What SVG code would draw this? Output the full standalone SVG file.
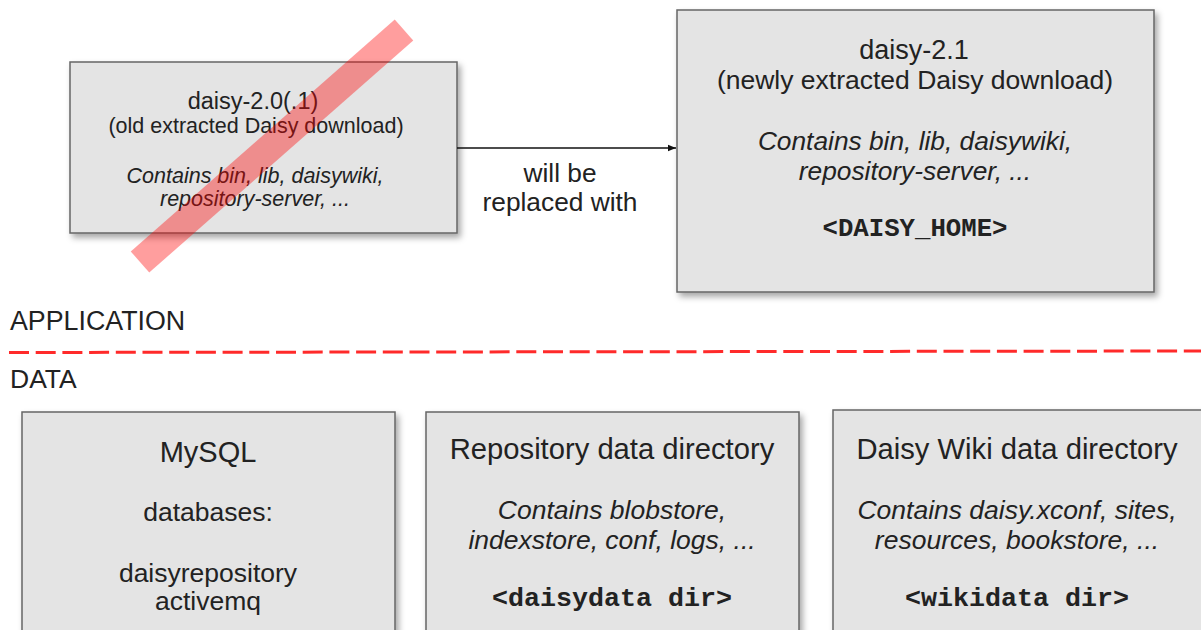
<svg xmlns="http://www.w3.org/2000/svg" width="1201" height="630" viewBox="0 0 1201 630">
<defs>
<filter id="sh" x="-10%" y="-10%" width="125%" height="130%">
<feDropShadow dx="3" dy="4" stdDeviation="3" flood-color="#000" flood-opacity="0.35"/>
</filter>
<marker id="arr" viewBox="0 0 10 10" refX="10" refY="5" markerWidth="8" markerHeight="8" markerUnits="userSpaceOnUse" orient="auto">
<path d="M0,1 L10,5 L0,9 Z" fill="#111"/>
</marker>
</defs>
<style>
.box{fill:#e4e4e4;stroke:#666;stroke-width:1.5;filter:url(#sh)}
text{font-family:"Liberation Sans",Arial,sans-serif;fill:#222;text-anchor:middle}
.it{font-style:italic}
.mono{font-family:"Liberation Mono","Courier New",monospace;font-weight:bold}
.lbl{text-anchor:start}
</style>
<rect width="1201" height="630" fill="#fff"/>

<g id="old">
<rect class="box" x="70" y="62" width="387" height="171"/>
<text x="253" y="109" font-size="23.5">daisy-2.0(.1)</text>
<text x="256" y="133" font-size="21.5">(old extracted Daisy download)</text>
<text class="it" x="255" y="183" font-size="21.5">Contains bin, lib, daisywiki,</text>
<text class="it" x="255" y="206" font-size="21.5">repository-server, ...</text>
</g>

<g id="new">
<rect class="box" x="677" y="10" width="477" height="282"/>
<text x="914" y="59" font-size="27">daisy-2.1</text>
<text x="915" y="89" font-size="26.5">(newly extracted Daisy download)</text>
<text class="it" x="915" y="150" font-size="26.3">Contains bin, lib, daisywiki,</text>
<text class="it" x="915" y="180" font-size="26.3">repository-server, ...</text>
<text class="mono" x="915" y="236" font-size="25.7">&lt;DAISY_HOME&gt;</text>
</g>

<g id="strike">
<line x1="140" y1="262" x2="404" y2="30" stroke="#ff0000" stroke-opacity="0.38" stroke-width="28"/>
</g>

<g id="connectors">
<line x1="457" y1="148" x2="676" y2="148" stroke="#111" stroke-width="1.5" marker-end="url(#arr)"/>
<text x="560" y="182" font-size="26.3">will be</text>
<text x="560" y="211" font-size="26.3">replaced with</text>
</g>

<g id="divider">
<text class="lbl" x="10" y="330" font-size="26.8">APPLICATION</text>
<line x1="9" y1="352.5" x2="1201" y2="351" stroke="#ff2a2a" stroke-width="3" stroke-dasharray="20 6.7"/>
<text class="lbl" x="10" y="388" font-size="26.5">DATA</text>
</g>

<g id="mysql">
<rect class="box" x="22" y="412" width="373" height="240"/>
<text x="208" y="462" font-size="29">MySQL</text>
<text x="208" y="521" font-size="26.5">databases:</text>
<text x="208" y="582" font-size="26.5">daisyrepository</text>
<text x="208" y="610" font-size="26.5">activemq</text>
</g>

<g id="repodata">
<rect class="box" x="426" y="412" width="373" height="240"/>
<text x="612" y="459" font-size="29.2">Repository data directory</text>
<text class="it" x="612" y="519" font-size="26.5">Contains blobstore,</text>
<text class="it" x="612" y="549" font-size="26.5">indexstore, conf, logs, ...</text>
<text class="mono" x="612" y="606" font-size="26.7">&lt;daisydata dir&gt;</text>
</g>

<g id="wikidata">
<rect class="box" x="833" y="410" width="373" height="240"/>
<text x="1017" y="459" font-size="29.2">Daisy Wiki data directory</text>
<text class="it" x="1017" y="519" font-size="26.5">Contains daisy.xconf, sites,</text>
<text class="it" x="1017" y="549" font-size="26.5">resources, bookstore, ...</text>
<text class="mono" x="1017" y="606" font-size="26.7">&lt;wikidata dir&gt;</text>
</g>
</svg>
